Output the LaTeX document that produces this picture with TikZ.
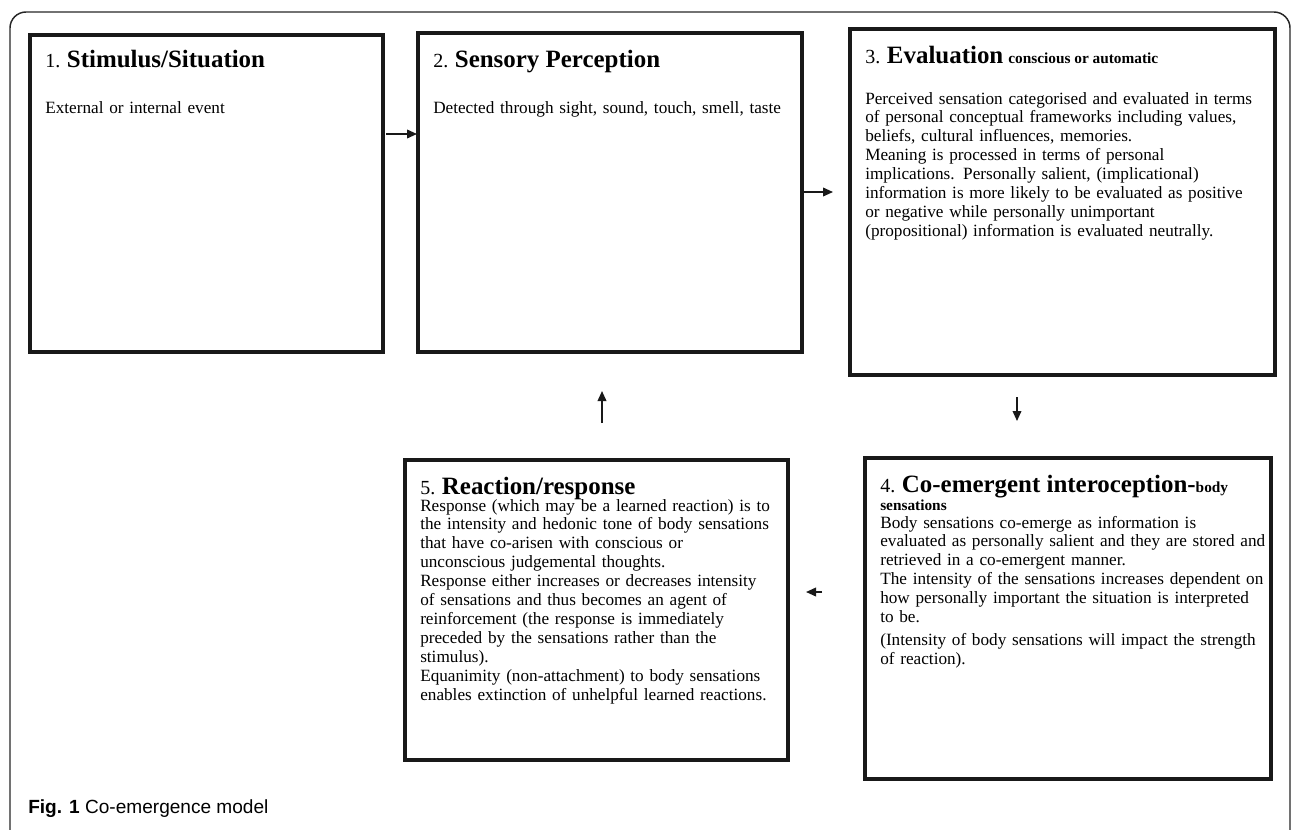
\documentclass[tikz,border=0pt]{standalone}
\usepackage{fontspec}
\setmainfont{Liberation Serif}
\newfontfamily\capfont{Liberation Sans}
\usetikzlibrary{arrows.meta}
\begin{document}
\begin{tikzpicture}[x=0.75pt,y=-0.75pt,
  box/.style={draw=black!90, line width=2.3pt, anchor=north west, inner sep=0pt, outer sep=0pt},
  ttl/.style={anchor=base west, inner sep=0pt, font=\fontsize{15}{17}\selectfont},
  bodytext/.style={anchor=base west, inner sep=0pt, align=left, text width=430*0.75pt, font=\fontsize{12.9}{14.2}\selectfont},
  arr/.style={-{Triangle[length=7.5pt,width=6.5pt]}, line width=1.2pt, draw=black!90}
]
\useasboundingbox (0,0) rectangle (1292,829);
% outer frame
\draw[line width=1.1pt, black!85, rounded corners=12pt] (10,860) -- (10,12) -- (1290,12) -- (1290,860);

% boxes
\node[box, minimum width=353*0.75pt, minimum height=317*0.75pt] (b1) at (30,35) {};
\node[box, minimum width=384*0.75pt, minimum height=319*0.75pt] (b2) at (418,33) {};
\node[box, minimum width=425*0.75pt, minimum height=346*0.75pt] (b3) at (850,29) {};
\node[box, minimum width=406*0.75pt, minimum height=321*0.75pt] (b4) at (865,458) {};
\node[box, minimum width=383*0.75pt, minimum height=300*0.75pt] (b5) at (405,460) {};

% titles
\node[ttl] (t1) at (45,67) {1. {\fontsize{18.7}{20}\selectfont\bfseries Stimulus/Situation}};
\node[ttl] (t2) at (433,67) {2. {\fontsize{18.7}{20}\selectfont\bfseries Sensory Perception}};
\node[ttl] (t3) at (865,63) {3. {\fontsize{18.7}{20}\selectfont\bfseries Evaluation} {\fontsize{11.5}{12}\selectfont\bfseries conscious or automatic}};
\node[ttl] (t4) at (880,492) {4. {\fontsize{18.7}{20}\selectfont\bfseries Co-emergent interoception-}{\fontsize{11.5}{12}\selectfont\bfseries body}};
\node[ttl, font=\fontsize{11.5}{12}\selectfont\bfseries] (t4b) at (880,510) {sensations};
\node[ttl] (t5) at (420,494) {5. {\fontsize{18.7}{20}\selectfont\bfseries Reaction/response}};

% body texts
\node[bodytext] (x1) at (45,113) {External or internal event};
\node[bodytext] (x2) at (433,113) {Detected through sight, sound, touch, smell, taste};
\node[bodytext] (x3) at (865,104) {Perceived sensation categorised and evaluated in terms\\
of personal conceptual frameworks including values,\\
beliefs, cultural influences, memories.\\
Meaning is processed in terms of personal\\
implications. Personally salient, (implicational)\\
information is more likely to be evaluated as positive\\
or negative while personally unimportant\\
(propositional) information is evaluated neutrally.};
\node[bodytext] (x4) at (880,528) {Body sensations co-emerge as information is\\
evaluated as personally salient and they are stored and\\
retrieved in a co-emergent manner.\\
The intensity of the sensations increases dependent on\\
how personally important the situation is interpreted\\
to be.\\[3pt]
(Intensity of body sensations will impact the strength\\
of reaction).};
\node[bodytext] (x5) at (420,511) {Response (which may be a learned reaction) is to\\
the intensity and hedonic tone of body sensations\\
that have co-arisen with conscious or\\
unconscious judgemental thoughts.\\
Response either increases or decreases intensity\\
of sensations and thus becomes an agent of\\
reinforcement (the response is immediately\\
preceded by the sensations rather than the\\
stimulus).\\
Equanimity (non-attachment) to body sensations\\
enables extinction of unhelpful learned reactions.};

% arrows
\coordinate (a1s) at (386,134); \coordinate (a1e) at (417,134);
\coordinate (a2s) at (802,192); \coordinate (a2e) at (833,192);
\coordinate (a3s) at (1017,397); \coordinate (a3e) at (1017,421);
\coordinate (a4s) at (822,592); \coordinate (a4e) at (806,592);
\coordinate (a5s) at (602,423); \coordinate (a5e) at (602,391);
\draw[arr] (a1s) -- (a1e);
\draw[arr] (a2s) -- (a2e);
\draw[arr] (a3s) -- (a3e);
\draw[arr] (a4s) -- (a4e);
\draw[arr] (a5s) -- (a5e);

% caption
\node[anchor=base west, inner sep=0pt, font=\capfont\fontsize{14.3}{16}\selectfont] (cap) at (28,813) {\textbf{Fig. 1} Co-emergence model};
\end{tikzpicture}
\end{document}
